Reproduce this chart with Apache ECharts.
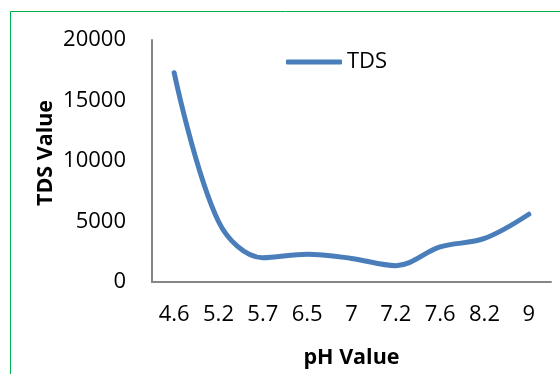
<!DOCTYPE html>
<html>
<head>
<meta charset="utf-8">
<script src="https://cdn.jsdelivr.net/npm/echarts@6/dist/echarts.min.js"></script>
<style>
html,body{margin:0;padding:0;background:#fff;}
#chart{width:560px;height:374px;}
</style>
</head>
<body>
<div id="chart"></div>
<script>
var categories = ['4.6', '5.2', '5.7', '6.5', '7', '7.2', '7.6', '8.2', '9'];
var tdsValues = [17300, 5000, 2000, 2300, 1950, 1350, 2900, 3600, 5600];
var seriesName = 'TDS';
var xTitle = 'pH Value';
var yTitle = 'TDS Value';

var FONT = "'Open Sans', 'Liberation Sans', sans-serif";
var chart = echarts.init(document.getElementById('chart'), null, {renderer: 'canvas'});
chart.setOption({
  backgroundColor: '#ffffff',
  animation: false,
  grid: {left: 152, top: 40, right: 9, bottom: 86, containLabel: false},
  legend: {
    data: [seriesName],
    left: 286, top: 51, padding: 0,
    icon: 'roundRect', itemWidth: 56, itemHeight: 5,
    textStyle: {fontFamily: FONT, fontSize: 22, color: '#000'}
  },
  xAxis: {
    type: 'category',
    data: categories,
    boundaryGap: true,
    name: xTitle,
    nameLocation: 'middle',
    nameGap: 65,
    nameTextStyle: {fontFamily: FONT, fontSize: 21.5, fontWeight: 'bold', color: '#000'},
    axisLine: {lineStyle: {color: '#868686', width: 2}},
    axisTick: {show: false},
    axisLabel: {fontFamily: FONT, fontSize: 22, color: '#000', margin: 22, interval: 0}
  },
  yAxis: {
    type: 'value',
    min: 0, max: 20000, interval: 5000,
    axisLine: {show: true, lineStyle: {color: '#868686', width: 2}},
    axisTick: {show: false},
    splitLine: {show: false},
    axisLabel: {fontFamily: FONT, fontSize: 22, color: '#000', margin: 26,
                formatter: function (v) { return String(v); }}
  },
  graphic: [
    {type: 'rect', silent: true, shape: {x: 10.5, y: 11.5, width: 700, height: 500},
     style: {fill: 'none', stroke: '#00b050', lineWidth: 1}},
    {type: 'text', x: 46, y: 153, rotation: Math.PI / 2,
     style: {text: yTitle, fontFamily: FONT, fontSize: 21.5, fontWeight: 'bold', fill: '#000',
             align: 'center', verticalAlign: 'middle'}}
  ],
  series: [{
    name: seriesName,
    type: 'line',
    data: tdsValues,
    smooth: 0.35,
    showSymbol: false,
    symbol: 'none',
    lineStyle: {color: '#4a7ebb', width: 5, cap: 'round'},
    itemStyle: {color: '#4a7ebb'}
  }]
});
</script>
</body>
</html>
